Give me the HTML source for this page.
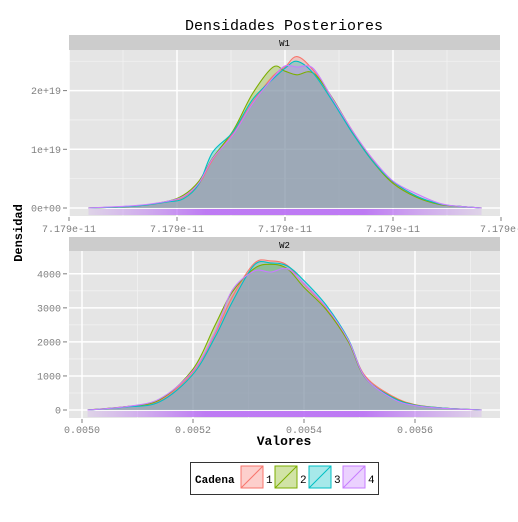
<!DOCTYPE html>
<html><head><meta charset="utf-8"><style>
body{margin:0;background:#fff;}
svg text{font-family:"Liberation Mono",monospace;}
</style></head><body>
<svg id="c" width="518" height="517" xmlns="http://www.w3.org/2000/svg">
<rect width="518" height="517" fill="#fff"/>
<text x="284" y="30" font-size="15" text-anchor="middle" fill="#000">Densidades Posteriores</text>
<text transform="translate(22,233) rotate(-90)" font-size="12" font-weight="bold" text-anchor="middle">Densidad</text>
<text x="284" y="445" font-size="13" font-weight="bold" text-anchor="middle">Valores</text>
<g id="p1"></g><g id="p2"></g>
<g>
<rect x="190.5" y="462.5" width="188" height="32" fill="#fff" stroke="#333" stroke-width="1"/>
<text x="195" y="483" font-size="11" font-weight="bold">Cadena</text>
<g id="leg"></g>
</g>
</svg>
<script>
const NS="http://www.w3.org/2000/svg";
const colors=["#F8766D","#7CAE00","#00BFC4","#C77CFF"];
const chains=["1","2","3","4"];
// W1 densities: x in tick units (0..4), y in units of 1e19
const w1x=[0.18,0.6,0.9,1.06,1.2,1.33,1.52,1.7,1.89,2.0,2.11,2.26,2.44,2.63,2.81,3.0,3.22,3.43,3.6,3.82];
const w1y1=[0,0.03,0.1,0.19,0.4,0.82,1.28,1.8,2.25,2.4,2.58,2.35,1.86,1.3,0.82,0.44,0.2,0.06,0.03,0];
const w1y2=[0,0.03,0.11,0.22,0.45,0.85,1.32,1.95,2.4,2.33,2.27,2.3,1.87,1.28,0.8,0.42,0.18,0.06,0.03,0];
const w1y3=[0,0.03,0.1,0.16,0.4,0.95,1.3,1.85,2.2,2.38,2.5,2.3,1.82,1.26,0.8,0.45,0.2,0.07,0.03,0];
const w1y4=[0,0.04,0.11,0.2,0.42,0.84,1.25,1.78,2.22,2.42,2.4,2.38,1.86,1.3,0.84,0.46,0.24,0.08,0.03,0];
// W2 densities: x values, y density
const w2x=[0.00501,0.00508,0.00514,0.0052,0.00524,0.00527,0.00531,0.00534,0.00537,0.0054,0.00544,0.00548,0.00551,0.00556,0.0056,0.00565,0.00572];
const w2y1=[0,100,280,1120,2250,3300,4300,4380,4250,3700,3000,2050,1000,400,160,60,0];
const w2y2=[0,100,300,1200,2500,3450,4150,4280,4150,3600,2950,2000,950,370,150,60,0];
const w2y3=[0,90,240,1050,2150,3150,4250,4320,4230,3800,3080,2080,960,360,140,60,0];
const w2y4=[0,100,330,1150,2300,3500,4080,4050,4150,3720,3020,2050,960,330,130,50,0];
const w1ticks=["7.179e-11","7.179e-11","7.179e-11","7.179e-11","7.179e-"];
const w2ticks=[0.0050,0.0052,0.0054,0.0056];

function el(tag,attrs,parent){const e=document.createElementNS(NS,tag);for(const k in attrs)e.setAttribute(k,attrs[k]);parent.appendChild(e);return e;}

function smooth(pts){
  let d='M'+pts[0][0].toFixed(1)+','+pts[0][1].toFixed(1);
  for(let i=0;i<pts.length-1;i++){
    const p0=pts[Math.max(0,i-1)],p1=pts[i],p2=pts[i+1],p3=pts[Math.min(pts.length-1,i+2)];
    const c1x=p1[0]+(p2[0]-p0[0])/6,c1y=p1[1]+(p2[1]-p0[1])/6;
    const c2x=p2[0]-(p3[0]-p1[0])/6,c2y=p2[1]-(p3[1]-p1[1])/6;
    d+='C'+c1x.toFixed(1)+','+c1y.toFixed(1)+' '+c2x.toFixed(1)+','+c2y.toFixed(1)+' '+p2[0].toFixed(1)+','+p2[1].toFixed(1);
  }
  return d;
}

function panel(g,cfg){
  const {x0,x1,ys,y0,y1,label}=cfg;
  const s=el('rect',{x:x0,y:ys,width:x1-x0,height:y0-ys,fill:'#cccccc'},g);
  
  
  const st=el('text',{x:(x0+x1)/2,y:ys+11,'font-size':9,'text-anchor':'middle'},g);st.textContent=label;
  
  
  const bg=el('rect',{x:x0,y:y0,width:x1-x0,height:y1-y0,fill:'#e5e5e5'},g);
  
  
}
function grid(g,cfg,xsMaj,xsMin,ysMaj,ysMin){
  xsMin.forEach(v=>el('line',{x1:v,x2:v,y1:cfg.y0,y2:cfg.y1,stroke:'#f2f2f2','stroke-width':0.8},g));
  ysMin.forEach(v=>el('line',{x1:cfg.x0,x2:cfg.x1,y1:v,y2:v,stroke:'#f2f2f2','stroke-width':0.8},g));
  xsMaj.forEach(v=>el('line',{x1:v,x2:v,y1:cfg.y0,y2:cfg.y1,stroke:'#fff','stroke-width':1.5},g));
  ysMaj.forEach(v=>el('line',{x1:cfg.x0,x2:cfg.x1,y1:v,y2:v,stroke:'#fff','stroke-width':1.5},g));
}
function curves(g,xs,ysets,sx,sy,name){
  ysets.forEach((ys,i)=>{
    const d=smooth(xs.map((x,j)=>[sx(x),sy(ys[j])]));
    const a=el('path',{d:d+'Z',fill:colors[i],'fill-opacity':0.3,stroke:'none'},g);
    
    
  });
  ysets.forEach((ys,i)=>{
    const d=smooth(xs.map((x,j)=>[sx(x),sy(ys[j])]));
    const l=el('path',{d:d,fill:'none',stroke:colors[i],'stroke-width':1.1,'stroke-linejoin':'round'},g);
    
    
  });
}
function rug(g,xa,xb,y){
  const gr=el('linearGradient',{id:'rg'+y,x1:0,x2:1,y1:0,y2:0},g);
  [[0,0.15],[0.15,0.5],[0.3,0.9],[0.7,0.9],[0.85,0.5],[1,0.15]].forEach(s=>el('stop',{offset:s[0],'stop-color':'#b96ef5','stop-opacity':s[1]},gr));
  const r=el('rect',{x:xa,y:y,width:xb-xa,height:6,fill:'url(#rg'+y+')'},g);
  
  
}

// Panel 1
const g1=document.getElementById('p1');
const c1={x0:69,x1:500,ys:35,y0:50,y1:216,label:'W1'};
panel(g1,c1);
const sx1=u=>69+u*108, sy1=v=>208-v*58.7;
grid(g1,c1,[0,1,2,3,4].map(sx1),[0.5,1.5,2.5,3.5].map(sx1),[0,1,2].map(sy1),[0.5,1.5,2.5].map(sy1));
rug(g1,sx1(0.18),sx1(3.82),209);
curves(g1,w1x,[w1y1,w1y2,w1y3,w1y4],sx1,sy1,'w1');
["0e+00","1e+19","2e+19"].forEach((t,i)=>{
  const y=sy1(i);el('line',{x1:63,x2:67,y1:y,y2:y,stroke:'#7f7f7f'},g1);
  const tx=el('text',{x:61,y:y+3.5,'font-size':10,'text-anchor':'end',fill:'#7f7f7f'},g1);tx.textContent=t;
  
  
});
w1ticks.forEach((t,i)=>{
  const x=sx1(i);el('line',{x1:x,x2:x,y1:217,y2:221,stroke:'#7f7f7f'},g1);
  const tx=el('text',{x:x,y:232,'font-size':10,'text-anchor':'middle',fill:'#7f7f7f'},g1);tx.textContent=t;
  
  
});

// Panel 2
const g2=document.getElementById('p2');
const c2={x0:69,x1:500,ys:237,y0:251,y1:418,label:'W2'};
panel(g2,c2);
const sx2=v=>82+(v-0.005)/0.0002*111, sy2=v=>410-v*0.03405;
grid(g2,c2,w2ticks.map(sx2),[0.0051,0.0053,0.0055,0.0057].map(sx2),[0,1000,2000,3000,4000].map(sy2),[500,1500,2500,3500].map(sy2));
rug(g2,sx2(0.00501),sx2(0.00572),411);
curves(g2,w2x,[w2y1,w2y2,w2y3,w2y4],sx2,sy2,'w2');
[0,1000,2000,3000,4000].forEach(v=>{
  const y=sy2(v);el('line',{x1:63,x2:67,y1:y,y2:y,stroke:'#7f7f7f'},g2);
  const tx=el('text',{x:61,y:y+3.5,'font-size':10,'text-anchor':'end',fill:'#7f7f7f'},g2);tx.textContent=String(v);
  
  
});
w2ticks.forEach(v=>{
  const x=sx2(v);el('line',{x1:x,x2:x,y1:419,y2:423,stroke:'#7f7f7f'},g2);
  const tx=el('text',{x:x,y:433,'font-size':10,'text-anchor':'middle',fill:'#7f7f7f'},g2);tx.textContent=v.toFixed(4);
  
  
});

// Legend
const lg=document.getElementById('leg');
chains.forEach((c,i)=>{
  const x=241+i*34;
  const g=el('g',{},lg);
  
  
  el('rect',{x:x,y:466,width:22,height:22,fill:colors[i],'fill-opacity':0.35,stroke:colors[i],'stroke-width':1},g);
  el('line',{x1:x,y1:488,x2:x+22,y2:466,stroke:colors[i],'stroke-width':1},g);
  const t=el('text',{x:x+25,y:483,'font-size':11},g);t.textContent=c;
});
</script>
</body></html>
